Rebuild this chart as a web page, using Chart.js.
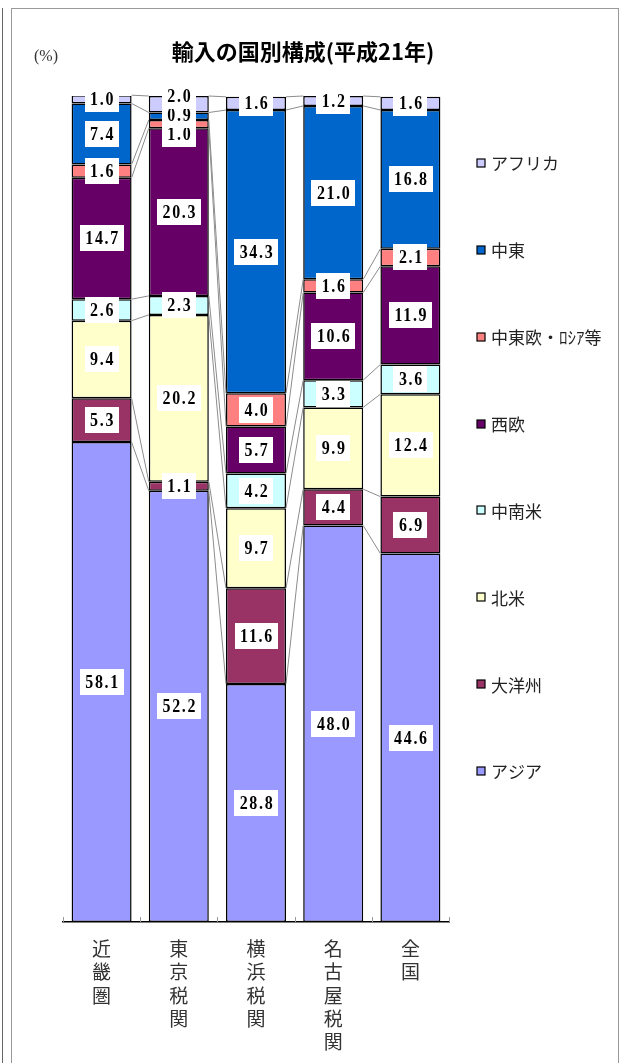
<!DOCTYPE html>
<html>
<head>
<meta charset="utf-8">
<script src="https://cdn.jsdelivr.net/npm/chart.js@4/dist/chart.umd.min.js"></script>
<style>
  body { margin: 0; background: #fff; }
  #wrap { position: relative; width: 621px; height: 1063px; overflow: hidden; }
  #edge { position: absolute; left: 2px; top: 8px; width: 0; height: 1063px; border-left: 1px solid #666; }
  #frame { position: absolute; left: 11px; top: 8px; width: 606px; height: 1100px; border: 1px solid #999; }
  canvas { position: absolute; left: 0; top: 0; }
</style>
</head>
<body>
<div id="wrap">
  <div id="edge"></div>
  <div id="frame"></div>
  <canvas id="myChart" width="621" height="1063"></canvas>
</div>
<script>
const chartTitle = '輸入の国別構成(平成21年)';
const unitLabel = '(%)';

const categories = ['近畿圏', '東京税関', '横浜税関', '名古屋税関', '全国'];
const seriesNames = ['アジア', '大洋州', '北米', '中南米', '西欧', '中東欧・ﾛｼｱ等', '中東', 'アフリカ'];

const asia = [58.1, 52.2, 28.8, 48.0, 44.6];
const oceania = [5.3, 1.1, 11.6, 4.4, 6.9];
const northAmerica = [9.4, 20.2, 9.7, 9.9, 12.4];
const latinAmerica = [2.6, 2.3, 4.2, 3.3, 3.6];
const westernEurope = [14.7, 20.3, 5.7, 10.6, 11.9];
const easternEurope = [1.6, 1.0, 4.0, 1.6, 2.1];
const middleEast = [7.4, 0.9, 34.3, 21.0, 16.8];
const africa = [1.0, 2.0, 1.6, 1.2, 1.6];

const seriesValues = [asia, oceania, northAmerica, latinAmerica, westernEurope, easternEurope, middleEast, africa];
const seriesColors = ['#9999FF', '#993366', '#FFFFCC', '#CCFFFF', '#660066', '#FF8080', '#0066CC', '#CCCCFF'];

const jpSans = "'Noto Sans CJK JP', 'Noto Sans', sans-serif";
const numFont = "'Liberation Serif', 'DejaVu Serif', serif";

// gray lines joining the segment tops of neighbouring bars
const seriesLines = {
  id: 'seriesLines',
  afterDatasetsDraw(chart) {
    const ctx = chart.ctx;
    ctx.save();
    ctx.strokeStyle = '#8c8c8c';
    ctx.lineWidth = 1;
    chart.data.datasets.forEach((ds, k) => {
      let bars = chart.getDatasetMeta(k).data;
      for (let i = 0; i < bars.length - 1; i++) {
        let a = bars[i], b = bars[i + 1];
        ctx.beginPath();
        ctx.moveTo(a.x + a.width / 2, a.y);
        ctx.lineTo(b.x - b.width / 2, b.y);
        ctx.stroke();
      }
    });
    ctx.restore();
  }
};

// value boxes, pushed apart where segments are too thin
const valueLabels = {
  id: 'valueLabels',
  afterDatasetsDraw(chart) {
    const ctx = chart.ctx;
    const gap = 19;
    const squeeze = 0.84;
    let placed = [];
    chart.data.labels.forEach((cat, i) => {
      let items = chart.data.datasets.map((ds, k) => {
        let bar = chart.getDatasetMeta(k).data[i];
        return { k: k, x: bar.x, y: (bar.y + bar.base) / 2, text: ds.data[i].toFixed(1) };
      });
      let sorted = items.slice().sort((p, q) => p.y - q.y);
      for (let n = 0; n < 200; n++) {
        for (let j = 0; j < sorted.length - 1; j++) {
          let d = sorted[j + 1].y - sorted[j].y;
          if (d < gap) {
            let shift = (gap - d) / 2;
            sorted[j].y -= shift;
            sorted[j + 1].y += shift;
          }
        }
      }
      placed.push(items);
    });

    ctx.save();
    ctx.font = 'bold 19px ' + numFont;
    ctx.letterSpacing = '2px';
    ctx.textAlign = 'center';
    ctx.textBaseline = 'middle';
    for (let k = 0; k < chart.data.datasets.length; k++) {
      placed.forEach(items => {
        let it = items[k];
        let tw = ctx.measureText(it.text).width * squeeze;
        let w = tw + 9;
        let h = 26;
        ctx.fillStyle = '#ffffff';
        ctx.fillRect(Math.round(it.x - w / 2), Math.round(it.y - h / 2), Math.round(w), h);
        ctx.fillStyle = '#000000';
        ctx.save();
        ctx.translate(it.x + 1, it.y + 1);
        ctx.scale(squeeze, 1);
        ctx.fillText(it.text, 0, 0);
        ctx.restore();
      });
    }
    ctx.restore();
  }
};

// title, unit, small tick marks and the legend on the right
const decorations = {
  id: 'decorations',
  afterDraw(chart) {
    const ctx = chart.ctx;
    const xs = chart.scales.x;
    ctx.save();

    ctx.fillStyle = '#000';
    ctx.font = 'bold 22px ' + jpSans;
    ctx.textAlign = 'center';
    ctx.textBaseline = 'middle';
    ctx.fillText(chartTitle, 303, 52);

    ctx.fillStyle = '#333';
    ctx.font = '16px ' + numFont;
    ctx.textAlign = 'left';
    ctx.fillText(unitLabel, 34, 57);

    ctx.strokeStyle = '#999';
    ctx.lineWidth = 1;
    let step = xs.width / chart.data.labels.length;
    for (let i = 0; i <= chart.data.labels.length; i++) {
      let px = Math.round(xs.left + i * step) + 0.5;
      ctx.beginPath();
      ctx.moveTo(px, xs.top);
      ctx.lineTo(px, xs.top - 5);
      ctx.stroke();
    }

    let n = chart.data.datasets.length;
    let firstY = 163, lastY = 771;
    ctx.font = '17px ' + jpSans;
    ctx.textBaseline = 'middle';
    for (let j = 0; j < n; j++) {
      let ds = chart.data.datasets[n - 1 - j];
      let y = firstY + j * (lastY - firstY) / (n - 1);
      ctx.fillStyle = ds.backgroundColor;
      ctx.fillRect(477, Math.round(y) - 4, 8, 8);
      ctx.strokeStyle = '#000';
      ctx.lineWidth = 1.2;
      ctx.strokeRect(477, Math.round(y) - 4, 8, 8);
      ctx.fillStyle = '#222';
      ctx.fillText(ds.label, 491, y + 1);
    }
    ctx.restore();
  }
};

document.addEventListener('DOMContentLoaded', () => {
  const myChart = document.getElementById('myChart');
  new Chart(myChart, {
    type: 'bar',
    data: {
      labels: categories.map(name => Array.from(name)),
      datasets: seriesNames.map((name, k) => ({
        label: name,
        data: seriesValues[k],
        backgroundColor: seriesColors[k],
        borderColor: '#000',
        borderWidth: 1.5,
        borderSkipped: false,
        categoryPercentage: 0.777,
        barPercentage: 1.0
      }))
    },
    options: {
      responsive: false,
      animation: false,
      devicePixelRatio: 1,
      layout: { padding: { left: 63, right: 172, top: 96, bottom: 0 } },
      plugins: {
        legend: { display: false },
        title: { display: false },
        tooltip: { enabled: false }
      },
      scales: {
        x: {
          stacked: true,
          grid: { display: false },
          border: { display: true, color: '#000', width: 1.5 },
          ticks: {
            padding: 7,
            color: '#333',
            maxRotation: 0,
            autoSkip: false,
            font: { family: jpSans, size: 19, lineHeight: 1.23 }
          },
          afterFit(scale) { scale.height = 141; }
        },
        y: {
          stacked: true,
          display: false,
          min: 0,
          max: 100
        }
      }
    },
    plugins: [seriesLines, valueLabels, decorations]
  });
});
</script>
</body>
</html>
